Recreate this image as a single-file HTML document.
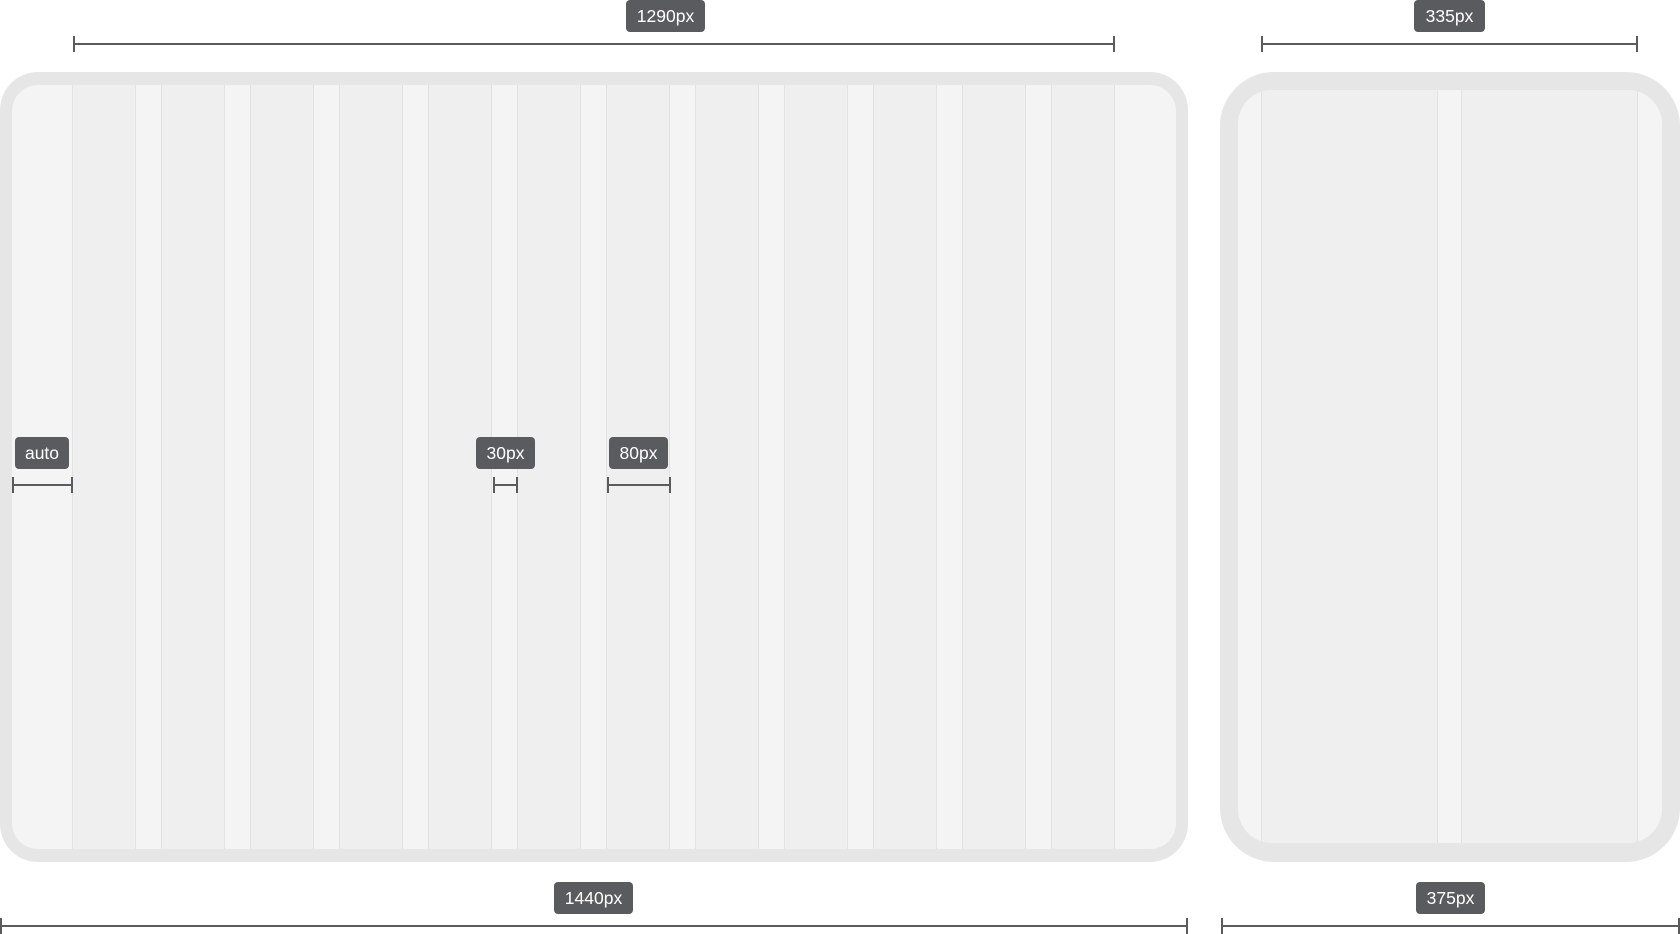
<!DOCTYPE html>
<html><head><meta charset="utf-8"><style>
html,body{margin:0;padding:0;background:#fff;width:1680px;height:934px;overflow:hidden;font-family:"Liberation Sans",sans-serif}
.abs{position:absolute;box-sizing:border-box}
.frame{background:#e6e6e6}
.inner{background:#f3f4f3;overflow:hidden}
.col{position:absolute;top:0;bottom:0;background:#efefef;border-left:1px solid #e2e2e2;border-right:1px solid #e2e2e2;box-sizing:border-box}
.tag{position:absolute;background:#595b5e;color:#fff;border-radius:4px;font-size:17.5px;line-height:32px;text-align:center}
.rule{position:absolute;height:2px;background:#595b5e}
.rule::before,.rule::after{content:"";position:absolute;top:-7px;width:2px;height:16px;background:#595b5e}
.rule::before{left:0}.rule::after{right:0}
</style></head><body>
<div class="abs frame" style="left:0;top:72px;width:1188px;height:790px;border-radius:38px"></div>
<div class="abs inner" id="dInner" style="left:12px;top:85px;width:1164px;height:764px;border-radius:26px"></div>
<div class="abs frame" style="left:1220px;top:72px;width:460px;height:790px;border-radius:54px"></div>
<div class="abs inner" id="mInner" style="left:1238px;top:90px;width:424px;height:753px;border-radius:34px"></div>

<div class="tag" style="left:626px;top:0;width:79px;height:32px">1290px</div>
<div class="rule" style="left:73px;top:43px;width:1042px"></div>
<div class="tag" style="left:554px;top:882px;width:79px;height:32px">1440px</div>
<div class="rule" style="left:0;top:925px;width:1188px"></div>
<div class="tag" style="left:15px;top:437px;width:54px;height:32px">auto</div>
<div class="rule" style="left:12px;top:484px;width:61px"></div>
<div class="tag" style="left:476px;top:437px;width:59px;height:32px">30px</div>
<div class="rule" style="left:493px;top:484px;width:25px"></div>
<div class="tag" style="left:609px;top:437px;width:59px;height:32px">80px</div>
<div class="rule" style="left:607px;top:484px;width:64px"></div>

<div class="tag" style="left:1414px;top:0;width:71px;height:32px">335px</div>
<div class="rule" style="left:1261px;top:43px;width:377px"></div>
<div class="tag" style="left:1416px;top:882px;width:69px;height:32px">375px</div>
<div class="rule" style="left:1221px;top:925px;width:459px"></div>

<script>
const desktopCols = 12;
const mobileCols = 2;
const d = document.getElementById('dInner');
for (let i = 0; i < desktopCols; i++) {
  const c = document.createElement('div');
  c.className = 'col';
  c.style.left = (72 - 12 + i * 89) + 'px';
  c.style.width = '64px';
  
  
  d.appendChild(c);
}
const m = document.getElementById('mInner');
const mStarts = [1261, 1461];
for (let i = 0; i < mobileCols; i++) {
  const c = document.createElement('div');
  c.className = 'col';
  c.style.left = (mStarts[i] - 1238) + 'px';
  c.style.width = '177px';
  
  
  m.appendChild(c);
}
</script>
</body></html>
